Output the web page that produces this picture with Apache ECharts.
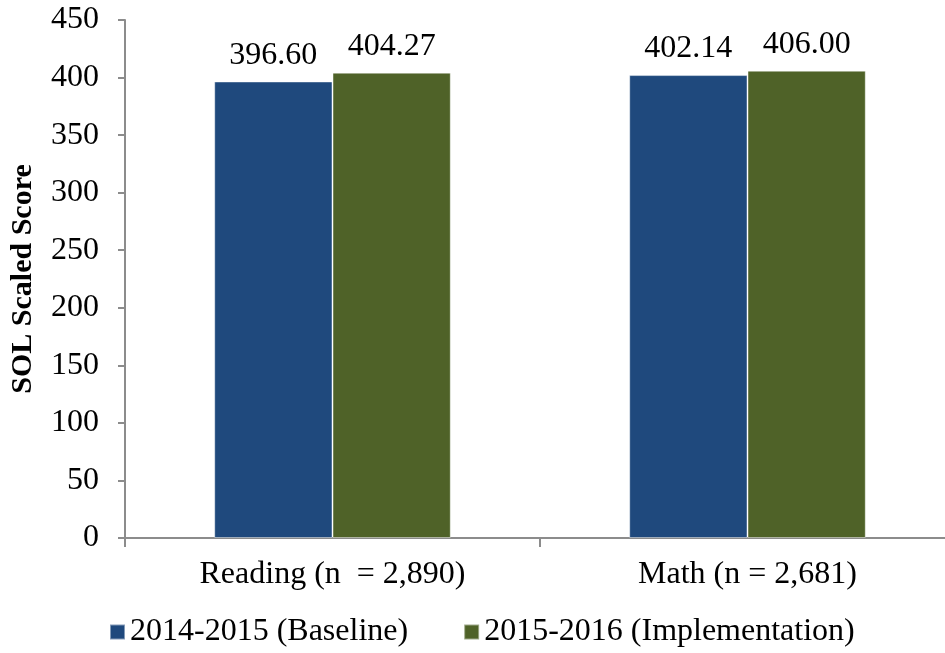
<!DOCTYPE html>
<html>
<head>
    <meta charset="UTF-8">
    <title>SOL Scaled Score</title>
    <style>
        html, body { margin: 0; padding: 0; background: #fff; }
        #main { width: 945px; height: 653px; }
    </style>
</head>
<body>
<div id="main"></div>
<script src="https://cdn.jsdelivr.net/npm/echarts@6/dist/echarts.min.js"></script>
<script>
    // 数据
    var categories = ['Reading (n  = 2,890)', 'Math (n = 2,681)'];
    var seriesNames = ['2014-2015 (Baseline)', '2015-2016 (Implementation)'];
    var baseline = [396.60, 402.14];
    var implementation = [404.27, 406.00];
    var barColors = ['#1F497D', '#4F6228'];

    var font = '"Liberation Serif", "Times New Roman", serif';

    var myChart = echarts.init(document.getElementById('main'));

    function barSeries(name, data, color) {
        return {
            name: name,
            type: 'bar',
            data: data,
            barGap: '0%',
            barCategoryGap: '43%',
            itemStyle: {
                color: color,
                borderColor: 'rgba(255,255,255,0.45)',
                borderWidth: 1
            },
            label: {
                show: true,
                position: 'top',
                distance: 10,
                color: '#000',
                fontFamily: font,
                fontSize: 32,
                formatter: function (p) { return p.value.toFixed(2); }
            }
        };
    }

    var option = {
        animation: false,
        textStyle: { fontFamily: font },
        grid: { left: 125, top: 20, width: 830, height: 518, outerBoundsMode: 'none', containLabel: false },
        legend: {
            bottom: 0,
            left: 104,
            itemWidth: 15,
            itemHeight: 15,
            itemGap: 55,
            icon: 'rect',
            textStyle: { fontFamily: font, fontSize: 32, color: '#000' },
            data: seriesNames
        },
        xAxis: {
            type: 'category',
            data: categories,
            axisLine: { lineStyle: { color: '#8c8c8c', width: 2 } },
            axisTick: { show: true, length: 9, lineStyle: { color: '#8c8c8c', width: 2 } },
            axisLabel: { color: '#000', fontFamily: font, fontSize: 32, margin: 21 }
        },
        yAxis: {
            type: 'value',
            min: 0,
            max: 450,
            interval: 50,
            name: 'SOL Scaled Score',
            nameLocation: 'middle',
            nameGap: 87,
            nameMoveOverlap: false,
            nameTextStyle: { fontFamily: font, fontSize: 30, fontWeight: 'bold', color: '#000' },
            axisLine: { show: true, lineStyle: { color: '#8c8c8c', width: 2 } },
            axisTick: { show: true, length: 7, lineStyle: { color: '#8c8c8c', width: 2 } },
            splitLine: { show: false },
            axisLabel: { color: '#000', fontFamily: font, fontSize: 32, margin: 26 }
        },
        series: [
            barSeries(seriesNames[0], baseline, barColors[0]),
            barSeries(seriesNames[1], implementation, barColors[1])
        ]
    };
    myChart.setOption(option);
</script>
</body>
</html>
